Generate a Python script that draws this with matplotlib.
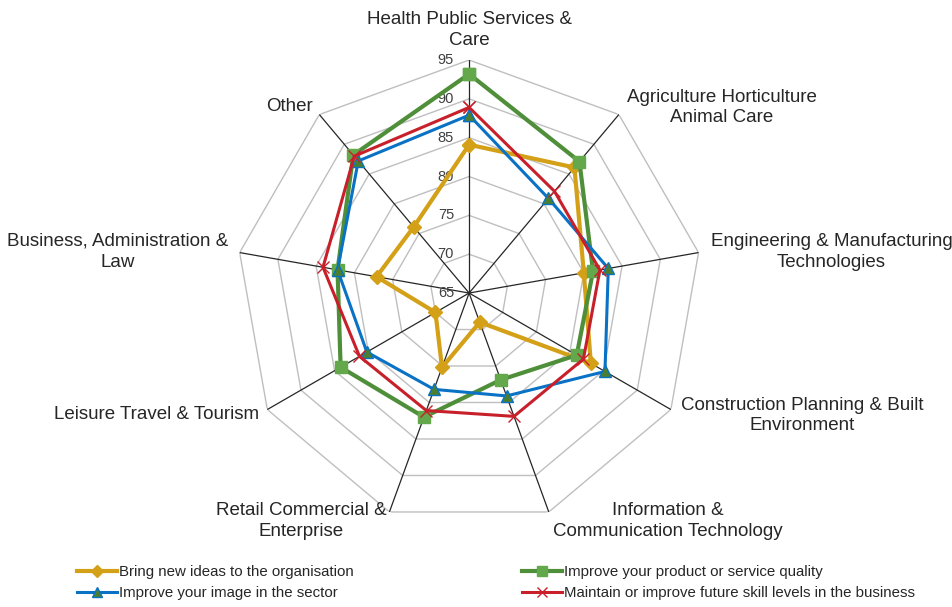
import numpy as np
import matplotlib
matplotlib.use("Agg")
import matplotlib.pyplot as plt
from matplotlib.lines import Line2D

plt.rcParams['font.family'] = ['Liberation Sans', 'DejaVu Sans']

categories = [
    "Health Public Services &\nCare",
    "Agriculture Horticulture\nAnimal Care",
    "Engineering & Manufacturing\nTechnologies",
    "Construction Planning & Built\nEnvironment",
    "Information &\nCommunication Technology",
    "Retail Commercial &\nEnterprise",
    "Leisure Travel & Tourism",
    "Business, Administration &\nLaw",
    "Other",
]
series_names = [
    "Bring new ideas to the organisation",
    "Improve your product or service quality",
    "Improve your image in the sector",
    "Maintain or improve future skill levels in the business",
]
new_ideas = [84.1, 86.1, 80.0, 83.1, 69.0, 75.2, 70.0, 77.1, 76.1]
quality = [93.2, 87.1, 81.2, 81.0, 76.9, 82.0, 84.1, 82.2, 88.2]
image = [87.9, 80.9, 83.2, 85.2, 79.1, 78.2, 80.2, 82.2, 87.2]
skills = [88.9, 82.1, 82.1, 82.0, 81.9, 81.1, 81.3, 84.1, 88.0]
ticks = [65, 70, 75, 80, 85, 90, 95]

fig = plt.figure(figsize=(9.52, 6.07), dpi=100)
ax = fig.add_axes([0.248, 0.1334, 0.4895, 0.7677], projection='polar')
ax.set_theta_zero_location('N')
ax.set_theta_direction(-1)
ax.set_ylim(ticks[0], ticks[-1])
ax.grid(False)
ax.spines['polar'].set_visible(False)
ax.set_xticks([])
ax.set_yticks([])
ax.patch.set_alpha(0)

n = len(categories)
theta = np.arange(n) * 2 * np.pi / n
theta_c = np.append(theta, theta[0])

# polygon grid
for t in ticks[1:]:
    ax.plot(theta_c, [t] * (n + 1), color='#BFBFBF', lw=1.0, zorder=1)
# spokes
for th in theta:
    ax.plot([th, th], [ticks[0], ticks[-1]], color='#262626', lw=0.9, zorder=2)

# tick labels
for t in ticks:
    ax.annotate(str(t), xy=(0, t), xycoords='data', xytext=(-15, 0),
                textcoords='offset pixels', ha='right', va='center',
                fontsize=10.5, color='#404040')

styles = [
    dict(color='#D4A017', lw=3.0, marker='D', ms=7, mfc='#D4A017', mec='#D4A017'),
    dict(color='#4F8F3A', lw=3.0, marker='s', ms=8, mfc='#63A84A', mec='#63A84A'),
    dict(color='#0A72C4', lw=2.2, marker='^', ms=8, mfc='#4A7F30', mec='#0A72C4'),
    dict(color='#C8202A', lw=2.2, marker='x', ms=8, mec='#C8202A', mew=1.0),
]
data = [new_ideas, quality, image, skills]
handles = []
for vals, st, name in zip(data, styles, series_names):
    v = np.append(vals, vals[0])
    ax.plot(theta_c, v, zorder=3, clip_on=False, **st)
    leg_st = dict(st)
    leg_st['ms'] = st['ms'] - 1
    handles.append(Line2D([0], [0], label=name, **leg_st))

# category labels
label_cfg = [
    ((0, 11), 'center', 'bottom'),
    ((8, 7), 'left', 'center'),
    ((12, 1), 'left', 'center'),
    ((10, -6), 'left', 'center'),
    ((4, 10), 'left', 'top'),
    ((-3, 10), 'right', 'top'),
    ((-8, -5), 'right', 'center'),
    ((-11, 1), 'right', 'center'),
    ((-6, 8), 'right', 'center'),
]
for th, lab, (off, ha, va) in zip(theta, categories, label_cfg):
    ax.annotate(lab, xy=(th, ticks[-1]), xycoords='data', xytext=off,
                textcoords='offset pixels', ha=ha, va=va,
                multialignment='center', fontsize=13.5, color='#262626',
                linespacing=1.3)

# legend: row-major order (gold, green / blue, red) with ncol=2
order = [0, 2, 1, 3]
fig.legend(handles=[handles[i] for i in order], loc='lower left',
           bbox_to_anchor=(0.067, -0.0115),
           ncol=2, frameon=False, fontsize=10.8, handlelength=2.67,
           handletextpad=0.13, columnspacing=11.2, labelspacing=0.48,
           labelcolor='#262626')

fig.savefig('out.png', dpi=100)
